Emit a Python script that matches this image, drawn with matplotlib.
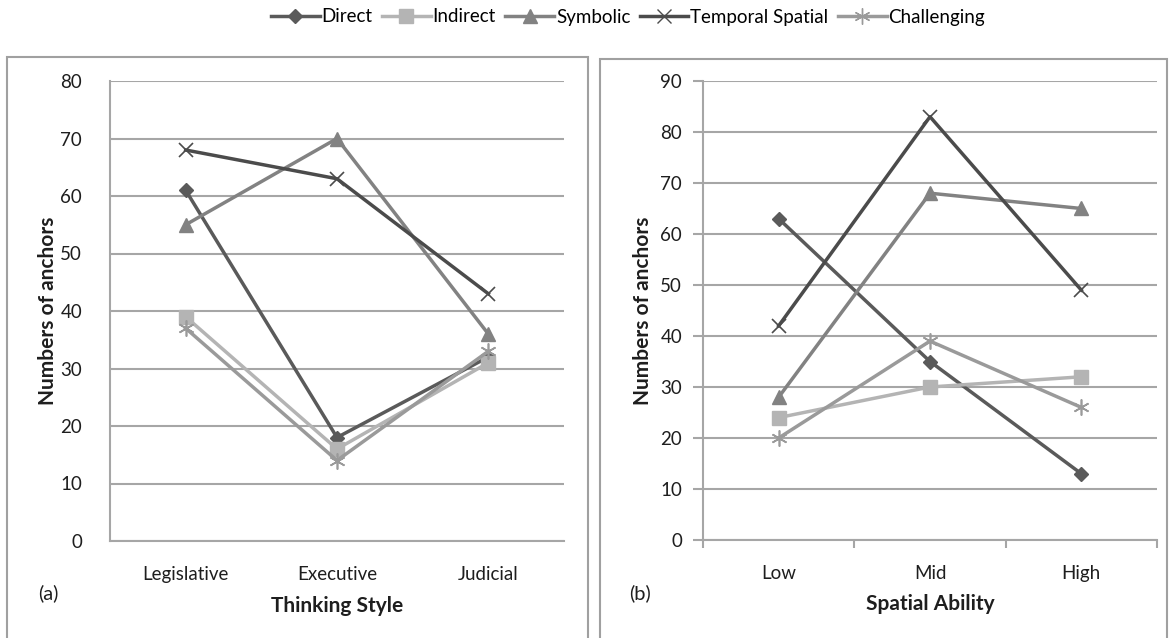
import matplotlib.pyplot as plt
from matplotlib.patches import Rectangle
from matplotlib.lines import Line2D

plt.rcParams['font.family'] = ['Lato', 'DejaVu Sans']

series_names = ['Direct', 'Indirect', 'Symbolic', 'Temporal Spatial', 'Challenging']
colors = ['#5a5a5a', '#b4b4b4', '#828282', '#4b4b4b', '#9a9a9a']
markers = ['D', 's', '^', 'x', (6, 2, 0)]
msizes = [7.5, 9.5, 9.5, 10.5, 11.5]

# panel (a): thinking style
thinking_cats = ['Legislative', 'Executive', 'Judicial']
thinking_vals = {
    'Direct': [61, 18, 32],
    'Indirect': [39, 16, 31],
    'Symbolic': [55, 70, 36],
    'Temporal Spatial': [68, 63, 43],
    'Challenging': [37, 14, 33],
}

# panel (b): spatial ability
spatial_cats = ['Low', 'Mid', 'High']
spatial_vals = {
    'Direct': [63, 35, 13],
    'Indirect': [24, 30, 32],
    'Symbolic': [28, 68, 65],
    'Temporal Spatial': [42, 83, 49],
    'Challenging': [20, 39, 26],
}

W, H = 1170, 638
fig = plt.figure(figsize=(W / 100, H / 100), dpi=100)

# outer frames of the two chart boxes
fig.patches.append(Rectangle((7 / W, -0.01), 581 / W, (H - 57) / H + 0.01,
                             transform=fig.transFigure, fill=False,
                             edgecolor='#a0a0a0', lw=1.5))
fig.patches.append(Rectangle((600 / W, -0.01), 567 / W, (H - 59) / H + 0.01,
                             transform=fig.transFigure, fill=False,
                             edgecolor='#a0a0a0', lw=1.5))

grid_c = '#a6a6a6'
txt_c = '#1e1e1e'


def draw_panel(ax, cats, vals, ymax, xlabel, ticks_out, ylab_x, xlab_y):
    x = range(len(cats))
    for name, c, m, ms in zip(series_names, colors, markers, msizes):
        mew = 1.2 if name in ('Temporal Spatial', 'Challenging') else 1
        ax.plot(x, vals[name], color=c, lw=2.5, marker=m, markersize=ms,
                markeredgecolor=c, markerfacecolor=c, markeredgewidth=mew,
                clip_on=False, zorder=3)
    ax.set_xlim(-0.5, len(cats) - 0.5)
    ax.set_ylim(0, ymax)
    ax.set_yticks(range(0, ymax + 1, 10))
    ax.yaxis.grid(True, color=grid_c, lw=1.5)
    ax.set_axisbelow(True)
    for s in ('top', 'right'):
        ax.spines[s].set_visible(False)
    for s in ('left', 'bottom'):
        ax.spines[s].set_color(grid_c)
        ax.spines[s].set_linewidth(1.5)
    ax.set_xticks(list(x))
    ax.set_xticklabels(cats)
    ax.tick_params(axis='x', length=0, pad=18, labelsize=13.5, colors=txt_c)
    if ticks_out:
        ax.set_xticks([i - 0.5 for i in range(len(cats) + 1)], minor=True)
        ax.tick_params(axis='x', which='minor', length=6, width=1.5, color=grid_c)
        ax.tick_params(axis='y', length=7, width=1.5, color=grid_c, pad=8,
                       labelsize=13.5, labelcolor=txt_c)
    else:
        ax.tick_params(axis='y', length=0, pad=20, labelsize=13.5, labelcolor=txt_c)
    ax.set_xlabel(xlabel, fontsize=15, fontweight='bold', color=txt_c, va='center')
    ax.set_ylabel('Numbers of anchors', fontsize=15, fontweight='bold', color=txt_c,
                  va='center')
    ax.xaxis.set_label_coords(0.5, xlab_y)
    ax.yaxis.set_label_coords(ylab_x, 0.5)
    return ax


ax1 = fig.add_axes([110 / W, 97 / H, 454 / W, 460 / H])
draw_panel(ax1, thinking_cats, thinking_vals, 80, 'Thinking Style', False,
           -62 / 454, -65 / 460)
ax2 = fig.add_axes([703 / W, 98 / H, 454 / W, 459 / H])
draw_panel(ax2, spatial_cats, spatial_vals, 90, 'Spatial Ability', True,
           -60 / 454, -64 / 459)

fig.text(48 / W, 1 - 593 / H, '(a)', fontsize=14.5, ha='center', va='center', color=txt_c)
fig.text(640 / W, 1 - 593 / H, '(b)', fontsize=14.5, ha='center', va='center', color=txt_c)

handles = [Line2D([], [], color=c, lw=2.5, marker=m, markersize=ms,
                  markeredgecolor=c, markerfacecolor=c)
           for c, m, ms in zip(colors, markers, msizes)]
fig.legend(handles, series_names, loc='center', bbox_to_anchor=(628 / W, 1 - 17 / H),
           ncol=5, frameon=False, fontsize=13.5, handlelength=2.6, handletextpad=0.1,
           columnspacing=0.5)

fig.savefig('out.png', dpi=100)
